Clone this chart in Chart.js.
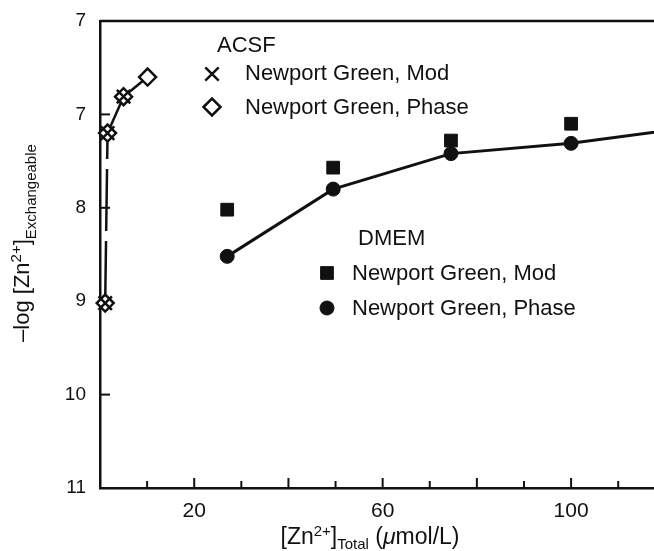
<!DOCTYPE html>
<html>
<head>
<meta charset="utf-8">
<title>Exchangeable vs total zinc</title>
<script src="https://cdn.jsdelivr.net/npm/chart.js@4.4.1/dist/chart.umd.min.js"></script>
<style>
  html, body { margin: 0; padding: 0; background: #fff; }
  #wrap { width: 654px; height: 551px; }
</style>
</head>
<body>
<div id="wrap"><canvas id="zincChart" width="654" height="551"></canvas></div>
<script>
// values
const acsfX = [1.1, 1.6, 5.0, 10.1];
const acsfModY = [9.02, 7.20, 6.81];
const acsfPhaseY = [9.02, 7.20, 6.81, 6.60];
const dmemX = [27, 49.5, 74.5, 100, 125];
const dmemModY = [8.02, 7.57, 7.28, 7.10];
const dmemPhaseY = [8.52, 7.80, 7.42, 7.31, 7.14];

const xTickLabels = [20, 60, 100];
const yTickValues = [6, 7, 8, 9, 10, 11];
const yTickLabels = ['7', '7', '8', '9', '10', '11'];

const FONT = '"Liberation Sans", Arial, sans-serif';
const INK = '#111';

function toPoints(xs, ys) {
  return ys.map((y, i) => ({ x: xs[i], y }));
}

function fontOf(part) {
  return `${part.italic ? 'italic ' : ''}${part.size}px ${FONT}`;
}

// draws a run of text pieces (sub/superscripts) centred on x
function drawRich(ctx, parts, x, y) {
  let total = 0;
  parts.forEach((p) => {
    ctx.font = fontOf(p);
    p.w = ctx.measureText(p.text).width;
    total += p.w;
  });
  let cx = x - total / 2;
  ctx.textAlign = 'left';
  ctx.textBaseline = 'alphabetic';
  parts.forEach((p) => {
    ctx.font = fontOf(p);
    ctx.fillText(p.text, cx, y + (p.dy || 0));
    cx += p.w;
  });
}

function marker(ctx, style, x, y) {
  ctx.save();
  ctx.lineWidth = style.borderWidth;
  ctx.strokeStyle = INK;
  ctx.fillStyle = style.fill;
  Chart.helpers.drawPoint(ctx, style, x, y);
  ctx.restore();
}

const modCross = { pointStyle: 'crossRot', radius: 9.5, borderWidth: 2.5, fill: INK, rotation: 0 };
const phaseDiamond = { pointStyle: 'rectRot', radius: 8.5, borderWidth: 2.5, fill: '#fff', rotation: 0 };
const modSquare = { pointStyle: 'rect', radius: 9, borderWidth: 1, fill: INK, rotation: 0 };
const phaseCircle = { pointStyle: 'circle', radius: 7, borderWidth: 1, fill: INK, rotation: 0 };

const axisDecor = {
  id: 'axisDecor',
  beforeDatasetsDraw(chart) {
    const { ctx, chartArea } = chart;
    const xs = chart.scales.x;
    const ys = chart.scales.y;
    ctx.save();
    ctx.strokeStyle = INK;
    // top frame line
    ctx.lineWidth = 2.5;
    ctx.beginPath();
    ctx.moveTo(chartArea.left, chartArea.top);
    ctx.lineTo(chartArea.right, chartArea.top);
    ctx.stroke();
    // inward ticks
    ctx.lineWidth = 2;
    for (let v = 10; v <= xs.max; v += 10) {
      const px = xs.getPixelForValue(v);
      const len = v % 20 === 0 ? 10 : 7;
      ctx.beginPath();
      ctx.moveTo(px, chartArea.bottom);
      ctx.lineTo(px, chartArea.bottom - len);
      ctx.stroke();
    }
    yTickValues.slice(1, -1).forEach((v) => {
      const py = ys.getPixelForValue(v);
      ctx.beginPath();
      ctx.moveTo(chartArea.left, py);
      ctx.lineTo(chartArea.left + 10, py);
      ctx.stroke();
    });
    ctx.restore();
  },
  afterDraw(chart) {
    const { ctx } = chart;
    ctx.save();
    ctx.fillStyle = INK;

    // axis titles
    drawRich(ctx, [
      { text: '[Zn', size: 23 },
      { text: '2+', size: 15, dy: -8 },
      { text: ']', size: 23 },
      { text: 'Total', size: 15, dy: 5 },
      { text: ' (', size: 23 },
      { text: 'μ', size: 23, italic: true },
      { text: 'mol/L)', size: 23 },
    ], 370, 544);

    ctx.save();
    ctx.translate(29, 243);
    ctx.rotate(-Math.PI / 2);
    drawRich(ctx, [
      { text: '–log [Zn', size: 22 },
      { text: '2+', size: 15, dy: -8 },
      { text: ']', size: 22 },
      { text: 'Exchangeable', size: 15, dy: 7 },
    ], 0, 0);
    ctx.restore();

    // in-plot legend groups
    ctx.font = `22px ${FONT}`;
    ctx.textAlign = 'left';
    ctx.textBaseline = 'alphabetic';
    ctx.fillText('ACSF', 217, 52);
    marker(ctx, modCross, 212, 74);
    ctx.fillText('Newport Green, Mod', 245, 80);
    marker(ctx, phaseDiamond, 212, 107);
    ctx.fillText('Newport Green, Phase', 245, 114);

    ctx.fillText('DMEM', 358, 245);
    marker(ctx, modSquare, 327, 273);
    ctx.fillText('Newport Green, Mod', 352, 280);
    marker(ctx, phaseCircle, 327, 308);
    ctx.fillText('Newport Green, Phase', 352, 315);
    ctx.restore();
  },
};

const datasets = [
  {
    label: 'ACSF Newport Green, Mod',
    data: toPoints(acsfX, acsfModY),
    showLine: false,
    pointStyle: modCross.pointStyle,
    pointRadius: modCross.radius,
    pointBorderWidth: modCross.borderWidth,
    pointBorderColor: INK,
    clip: false,
  },
  {
    label: 'ACSF Newport Green, Phase',
    data: toPoints(acsfX, acsfPhaseY),
    showLine: true,
    borderColor: INK,
    borderWidth: 2.5,
    borderDash: [62, 10],
    pointStyle: phaseDiamond.pointStyle,
    pointRadius: phaseDiamond.radius,
    pointBorderWidth: phaseDiamond.borderWidth,
    pointBorderColor: INK,
    pointBackgroundColor: '#fff',
    clip: false,
  },
  {
    label: 'DMEM Newport Green, Mod',
    data: toPoints(dmemX, dmemModY),
    showLine: false,
    pointStyle: modSquare.pointStyle,
    pointRadius: modSquare.radius,
    pointBorderWidth: 1,
    pointBorderColor: INK,
    pointBackgroundColor: INK,
    clip: false,
  },
  {
    label: 'DMEM Newport Green, Phase',
    data: toPoints(dmemX, dmemPhaseY),
    showLine: true,
    borderColor: INK,
    borderWidth: 3,
    pointStyle: phaseCircle.pointStyle,
    pointRadius: phaseCircle.radius,
    pointBorderWidth: 1,
    pointBorderColor: INK,
    pointBackgroundColor: INK,
    clip: false,
  },
];

new Chart(document.getElementById('zincChart'), {
  type: 'scatter',
  data: { datasets },
  plugins: [axisDecor],
  options: {
    responsive: false,
    animation: false,
    events: [],
    layout: { padding: { top: 21, right: 0, left: 0, bottom: 0 }, autoPadding: false },
    plugins: { legend: { display: false }, tooltip: { enabled: false } },
    scales: {
      x: {
        type: 'linear',
        min: 0,
        max: 117.6,
        afterFit: (scale) => {
          scale.height = 63;
          scale.paddingLeft = 0;
          scale.paddingRight = 0;
        },
        grid: { display: false, drawTicks: false },
        border: { display: true, color: INK, width: 2.5 },
        ticks: {
          stepSize: 10,
          autoSkip: false,
          maxRotation: 0,
          padding: 11,
          color: INK,
          font: { family: FONT, size: 21 },
          callback: (v) => (xTickLabels.includes(v) ? String(v) : ''),
        },
      },
      y: {
        type: 'linear',
        reverse: true,
        min: 6,
        max: 11,
        afterFit: (scale) => {
          scale.width = 100;
          scale.paddingTop = 0;
          scale.paddingBottom = 0;
        },
        grid: { display: false, drawTicks: false },
        border: { display: true, color: INK, width: 2.5 },
        ticks: {
          stepSize: 1,
          padding: 14,
          color: INK,
          font: { family: FONT, size: 19 },
          callback: (v) => yTickLabels[yTickValues.indexOf(v)],
        },
      },
    },
  },
});
</script>
</body>
</html>
